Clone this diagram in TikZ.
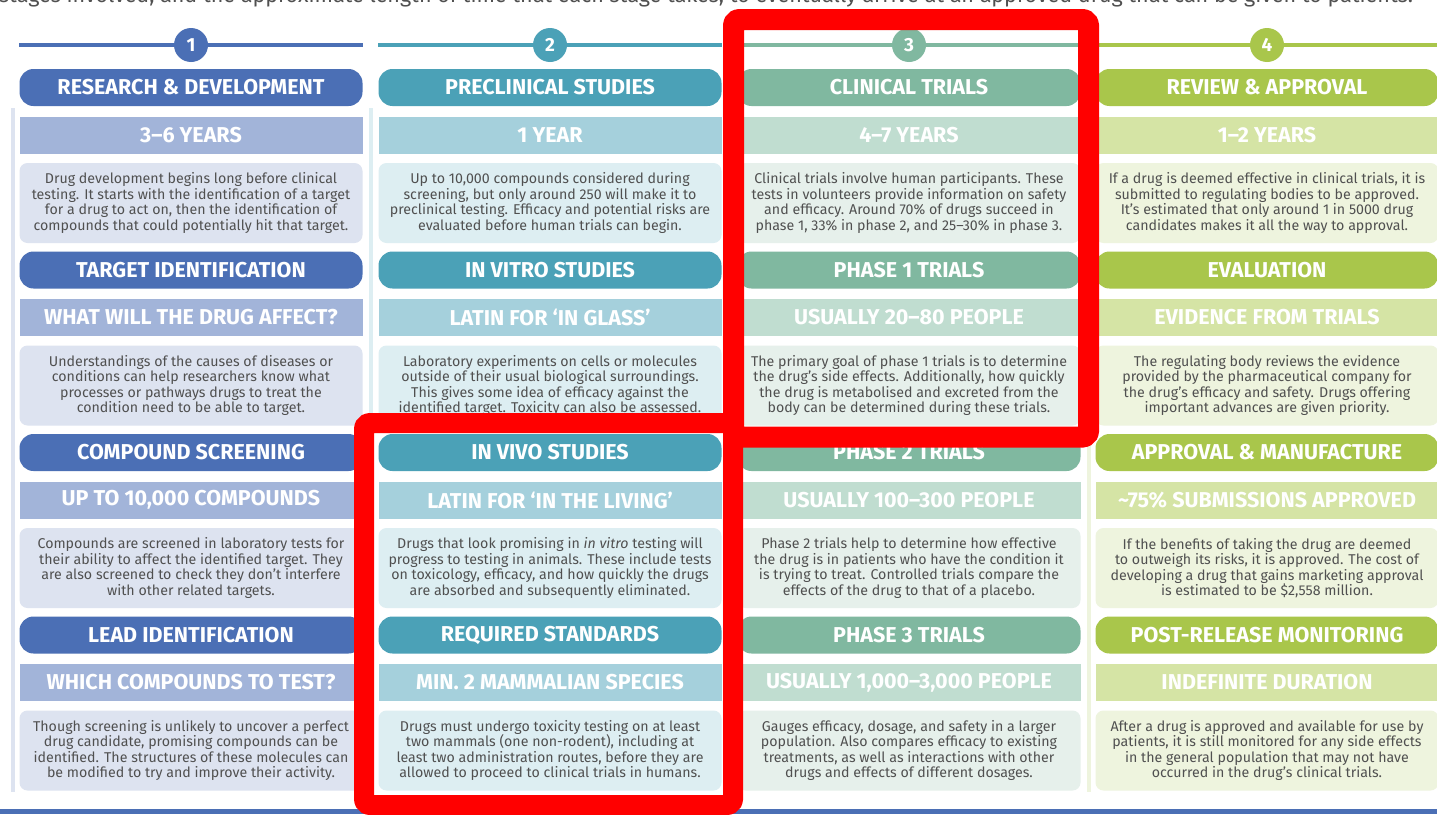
\documentclass[tikz,border=0pt]{standalone}
\usepackage{fontspec}
\setmainfont{Fira Sans}
\definecolor{rdblue}{HTML}{4B6FB5}
\definecolor{rdbluesub}{HTML}{A2B4D9}
\definecolor{rdbluelt}{HTML}{DDE3F0}
\definecolor{preteal}{HTML}{4BA1B7}
\definecolor{pretealsub}{HTML}{A5D0DC}
\definecolor{pretealt}{HTML}{DDEEF2}
\definecolor{clinsage}{HTML}{80B8A0}
\definecolor{clinsagesub}{HTML}{C0DDD0}
\definecolor{clinsagelt}{HTML}{E6F0EB}
\definecolor{revlime}{HTML}{A9C64B}
\definecolor{revlimesub}{HTML}{D5E4A5}
\definecolor{revlimelt}{HTML}{EEF4DE}
\definecolor{bodygrey}{HTML}{505050}
\definecolor{framered}{HTML}{FF0000}
\begin{document}
\begin{tikzpicture}[x=1pt,y=-1pt,line join=bevel,
  pill/.style={rounded corners=14pt,minimum width=343pt,minimum height=37pt,inner sep=0pt,text=white,font=\fontsize{21.5}{21.5}\selectfont\bfseries},
  subbar/.style={minimum width=343pt,minimum height=37pt,inner sep=0pt,text=white,font=\fontsize{21.5}{21.5}\selectfont\bfseries},
  txtbox/.style={rounded corners=8pt,minimum width=343pt,minimum height=80pt,inner sep=0pt,align=center,text=bodygrey,font=\fontsize{14.2}{15.5}\selectfont},
  num/.style={circle,minimum size=34pt,inner sep=0pt,text=white,font=\fontsize{19}{19}\selectfont\bfseries},
  strip/.style={line width=4pt},
]
%%
\useasboundingbox (0,0) rectangle (1437,814);
\fill[white] (0,0) rectangle (1437,814);
\node (intro) at (-1,2.5) [anchor=base west,inner sep=0pt,text=bodygrey,font=\fontsize{21.5}{21.5}\selectfont] {stages involved, and the approximate length of time that each stage takes, to eventually arrive at an approved drug that can be given to patients.};
%
\draw [strip,rdbluelt] (13,108) -- (13,792);
\draw [strip,pretealt] (371,108) -- (371,792);
\draw [strip,clinsagelt] (731,108) -- (731,792);
\draw [strip,revlimelt] (1089,108) -- (1089,792);
\fill [rdblue] (0,809) rectangle (1437,814);
%
\coordinate (line_1_a) at (19,45);
\coordinate (line_1_b) at (363,45);
\coordinate (line_2_a) at (378,45);
\coordinate (line_2_b) at (722,45);
\coordinate (line_3_a) at (739,45);
\coordinate (line_3_b) at (1080,45);
\coordinate (line_4_a) at (1097,45);
\coordinate (line_4_b) at (1437,45);
\draw [rdblue,line width=4pt] (line_1_a) -- (line_1_b);
\draw [preteal,line width=4pt] (line_2_a) -- (line_2_b);
\draw [clinsage,line width=4pt] (line_3_a) -- (line_3_b);
\draw [revlime,line width=4pt] (line_4_a) -- (line_4_b);
\node (num_1) at (191,45) [num,fill=rdblue] {1};
\node (num_2) at (550,45) [num,fill=preteal] {2};
\node (num_3) at (909,45) [num,fill=clinsage] {3};
\node (num_4) at (1267,45) [num,fill=revlime] {4};
%
\node (pill_1_1) at (191,87.5) [pill,fill=rdblue] {RESEARCH \& DEVELOPMENT};
\node (sub_1_1) at (191,135) [subbar,fill=rdbluesub] {3–6 YEARS};
\node (txt_1_1) at (191,203) [txtbox,fill=rdbluelt] {Drug development begins long before clinical\\testing. It starts with the identification of a target\\for a drug to act on, then the identification of\\compounds that could potentially hit that target.};
\node (pill_1_2) at (191,270) [pill,fill=rdblue] {TARGET IDENTIFICATION};
\node (sub_1_2) at (191,317.5) [subbar,fill=rdbluesub] {WHAT WILL THE DRUG AFFECT?};
\node (txt_1_2) at (191,385.5) [txtbox,fill=rdbluelt] {Understandings of the causes of diseases or\\conditions can help researchers know what\\processes or pathways drugs to treat the\\condition need to be able to target.};
\node (pill_1_3) at (191,452.5) [pill,fill=rdblue] {COMPOUND SCREENING};
\node (sub_1_3) at (191,500) [subbar,fill=rdbluesub] {UP TO 10,000 COMPOUNDS};
\node (txt_1_3) at (191,568) [txtbox,fill=rdbluelt] {Compounds are screened in laboratory tests for\\their ability to affect the identified target. They\\are also screened to check they don’t interfere\\with other related targets.};
\node (pill_1_4) at (191,635) [pill,fill=rdblue] {LEAD IDENTIFICATION};
\node (sub_1_4) at (191,682.5) [subbar,fill=rdbluesub] {WHICH COMPOUNDS TO TEST?};
\node (txt_1_4) at (191,750.5) [txtbox,fill=rdbluelt] {Though screening is unlikely to uncover a perfect\\drug candidate, promising compounds can be\\identified. The structures of these molecules can\\be modified to try and improve their activity.};
%
\node (pill_2_1) at (550,87.5) [pill,fill=preteal] {PRECLINICAL STUDIES};
\node (sub_2_1) at (550,135) [subbar,fill=pretealsub] {1 YEAR};
\node (txt_2_1) at (550,203) [txtbox,fill=pretealt] {Up to 10,000 compounds considered during\\screening, but only around 250 will make it to\\preclinical testing. Efficacy and potential risks are\\evaluated before human trials can begin.};
\node (pill_2_2) at (550,270) [pill,fill=preteal] {IN VITRO STUDIES};
\node (sub_2_2) at (550,317.5) [subbar,fill=pretealsub] {LATIN FOR ‘IN GLASS’};
\node (txt_2_2) at (550,385.5) [txtbox,fill=pretealt] {Laboratory experiments on cells or molecules\\outside of their usual biological surroundings.\\This gives some idea of efficacy against the\\identified target. Toxicity can also be assessed.};
\node (pill_2_3) at (550,452.5) [pill,fill=preteal] {IN VIVO STUDIES};
\node (sub_2_3) at (550,500) [subbar,fill=pretealsub] {LATIN FOR ‘IN THE LIVING’};
\node (txt_2_3) at (550,568) [txtbox,fill=pretealt] {Drugs that look promising in \textit{in vitro} testing will\\progress to testing in animals. These include tests\\on toxicology, efficacy, and how quickly the drugs\\are absorbed and subsequently eliminated.};
\node (pill_2_4) at (550,635) [pill,fill=preteal] {REQUIRED STANDARDS};
\node (sub_2_4) at (550,682.5) [subbar,fill=pretealsub] {MIN. 2 MAMMALIAN SPECIES};
\node (txt_2_4) at (550,750.5) [txtbox,fill=pretealt] {Drugs must undergo toxicity testing on at least\\two mammals (one non-rodent), including at\\least two administration routes, before they are\\allowed to proceed to clinical trials in humans.};
%
\node (pill_3_1) at (909,87.5) [pill,fill=clinsage] {CLINICAL TRIALS};
\node (sub_3_1) at (909,135) [subbar,fill=clinsagesub] {4–7 YEARS};
\node (txt_3_1) at (909,203) [txtbox,fill=clinsagelt] {Clinical trials involve human participants. These\\tests in volunteers provide information on safety\\and efficacy. Around 70\% of drugs succeed in\\phase 1, 33\% in phase 2, and 25–30\% in phase 3.};
\node (pill_3_2) at (909,270) [pill,fill=clinsage] {PHASE 1 TRIALS};
\node (sub_3_2) at (909,317.5) [subbar,fill=clinsagesub] {USUALLY 20–80 PEOPLE};
\node (txt_3_2) at (909,385.5) [txtbox,fill=clinsagelt] {The primary goal of phase 1 trials is to determine\\the drug’s side effects. Additionally, how quickly\\the drug is metabolised and excreted from the\\body can be determined during these trials.};
\node (pill_3_3) at (909,452.5) [pill,fill=clinsage] {PHASE 2 TRIALS};
\node (sub_3_3) at (909,500) [subbar,fill=clinsagesub] {USUALLY 100–300 PEOPLE};
\node (txt_3_3) at (909,568) [txtbox,fill=clinsagelt] {Phase 2 trials help to determine how effective\\the drug is in patients who have the condition it\\is trying to treat. Controlled trials compare the\\effects of the drug to that of a placebo.};
\node (pill_3_4) at (909,635) [pill,fill=clinsage] {PHASE 3 TRIALS};
\node (sub_3_4) at (909,682.5) [subbar,fill=clinsagesub] {USUALLY 1,000–3,000 PEOPLE};
\node (txt_3_4) at (909,750.5) [txtbox,fill=clinsagelt] {Gauges efficacy, dosage, and safety in a larger\\population. Also compares efficacy to existing\\treatments, as well as interactions with other\\drugs and effects of different dosages.};
%
\node (pill_4_1) at (1267,87.5) [pill,fill=revlime] {REVIEW \& APPROVAL};
\node (sub_4_1) at (1267,135) [subbar,fill=revlimesub] {1–2 YEARS};
\node (txt_4_1) at (1267,203) [txtbox,fill=revlimelt] {If a drug is deemed effective in clinical trials, it is\\submitted to regulating bodies to be approved.\\It’s estimated that only around 1 in 5000 drug\\candidates makes it all the way to approval.};
\node (pill_4_2) at (1267,270) [pill,fill=revlime] {EVALUATION};
\node (sub_4_2) at (1267,317.5) [subbar,fill=revlimesub] {EVIDENCE FROM TRIALS};
\node (txt_4_2) at (1267,385.5) [txtbox,fill=revlimelt] {The regulating body reviews the evidence\\provided by the pharmaceutical company for\\the drug’s efficacy and safety. Drugs offering\\important advances are given priority.};
\node (pill_4_3) at (1267,452.5) [pill,fill=revlime] {APPROVAL \& MANUFACTURE};
\node (sub_4_3) at (1267,500) [subbar,fill=revlimesub] {\textasciitilde75\% SUBMISSIONS APPROVED};
\node (txt_4_3) at (1267,568) [txtbox,fill=revlimelt] {If the benefits of taking the drug are deemed\\to outweigh its risks, it is approved. The cost of\\developing a drug that gains marketing approval\\is estimated to be \$2,558 million.};
\node (pill_4_4) at (1267,635) [pill,fill=revlime] {POST-RELEASE MONITORING};
\node (sub_4_4) at (1267,682.5) [subbar,fill=revlimesub] {INDEFINITE DURATION};
\node (txt_4_4) at (1267,750.5) [txtbox,fill=revlimelt] {After a drug is approved and available for use by\\patients, it is still monitored for any side effects\\in the general population that may not have\\occurred in the drug’s clinical trials.};
%
\draw [framered,line width=21pt,rounded corners=5pt] (733.5,19.5) rectangle (1088.5,437);
\draw [framered,line width=20pt,rounded corners=5pt] (364,423) rectangle (733,805);
%
\end{tikzpicture}
\end{document}
